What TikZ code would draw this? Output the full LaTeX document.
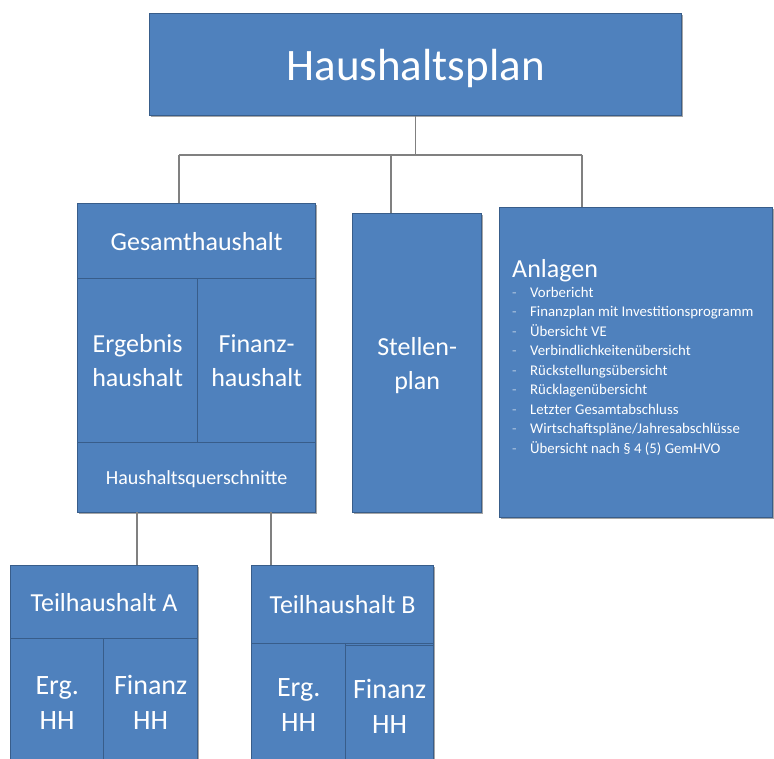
\documentclass[tikz,border=0pt]{standalone}
\usepackage{fontspec}
\setmainfont{Carlito}
\usetikzlibrary{shadows}
\definecolor{boxfill}{HTML}{4F81BD}
\definecolor{boxline}{HTML}{385D8A}
\definecolor{connline}{HTML}{808080}
\tikzset{
  cell/.style={draw=boxline, fill=boxfill, line width=1.3pt, inner sep=0pt,
    text=white, align=center, text depth=0pt, anchor=north west},
  framebox/.style={cell, drop shadow={shadow xshift=1.2pt, shadow yshift=-1.6pt, opacity=0.35, fill=black}},
  connector/.style={draw=connline, line width=1.4pt},
  bigtext/.style={font=\fontsize{26}{34}\selectfont},
  hhtext/.style={font=\fontsize{28}{35}\selectfont},
}
\newcommand{\anlitem}[1]{\makebox[18pt][l]{\textcolor{white!55!boxfill}{-}}#1}
\begin{document}
\begin{tikzpicture}[x=1pt,y=-1pt]
\useasboundingbox (0,0) rectangle (774,758);
\clip (0,0) rectangle (774,758);

% top
\node[framebox, minimum width=532pt, minimum height=102pt, font=\fontsize{45}{54}\selectfont] (hp) at (149,13) {Haushaltsplan};

% Gesamthaushalt
\node[framebox, minimum width=238pt, minimum height=309pt] (gesamt) at (77,203) {};
\node[cell, bigtext, minimum width=238pt, minimum height=75pt] (gh) at (77,203) {Gesamthaushalt};
\node[cell, bigtext, minimum width=120pt, minimum height=164pt] (eh) at (77,278) {Ergebnis\\haushalt};
\node[cell, bigtext, minimum width=118pt, minimum height=164pt] (fh) at (197,278) {Finanz-\\haushalt};
\node[cell, font=\fontsize{20}{24}\selectfont, minimum width=238pt, minimum height=70pt] (qs) at (77,442) {Haushaltsquerschnitte};

% Stellenplan
\node[framebox, bigtext, minimum width=129pt, minimum height=299pt] (stellen) at (352,213) {Stellen-\\plan};

% Anlagen
\node[framebox, minimum width=273pt, minimum height=310pt] (anlagen) at (499,207) {};
\node[anchor=base west, text=white, align=left, inner sep=0pt, font=\fontsize{14.8}{19.5}\selectfont] (anltext) at (512,453)
  {{\fontsize{26}{30}\selectfont Anlagen}\\[0pt]
   \anlitem{Vorbericht}\\
   \anlitem{Finanzplan mit Investitionsprogramm}\\
   \anlitem{Übersicht VE}\\
   \anlitem{Verbindlichkeitenübersicht}\\
   \anlitem{Rückstellungsübersicht}\\
   \anlitem{Rücklagenübersicht}\\
   \anlitem{Letzter Gesamtabschluss}\\
   \anlitem{Wirtschaftspläne/Jahresabschlüsse}\\
   \anlitem{Übersicht nach § 4 (5) GemHVO}};

% Teilhaushalt A
\node[framebox, minimum width=187pt, minimum height=201pt] (teilA) at (10,565) {};
\node[cell, bigtext, minimum width=187pt, minimum height=73pt] (thA) at (10,565) {Teilhaushalt A};
\node[cell, hhtext, minimum width=93pt, minimum height=128pt] (ergA) at (10,638) {Erg.\\HH};
\node[cell, hhtext, minimum width=94pt, minimum height=128pt] (finA) at (103,638) {Finanz\\HH};

% Teilhaushalt B
\node[framebox, minimum width=182pt, minimum height=201pt] (teilB) at (251,565) {};
\node[cell, bigtext, minimum width=182pt, minimum height=78pt] (thB) at (251,565) {Teilhaushalt B};
\node[cell, hhtext, minimum width=94pt, minimum height=123pt] (ergB) at (251,643) {Erg.\\HH};
\node[cell, hhtext, minimum width=88pt, minimum height=121pt] (finB) at (345,645) {Finanz\\HH};

% connectors
\coordinate (busL) at (179,155);
\coordinate (busS) at (391,155);
\coordinate (busR) at (582,155);
\draw[connector] (hp.south) -- (hp.south |- busL);
\draw[connector] (busL) -- (busR);
\draw[connector] (busL) -- (busL |- gesamt.north);
\draw[connector] (busS) -- (busS |- stellen.north);
\draw[connector] (busR) -- (busR |- anlagen.north);
\coordinate (dropA) at (137,512);
\coordinate (dropB) at (271,512);
\draw[connector] (dropA) -- (dropA |- teilA.north);
\draw[connector] (dropB) -- (dropB |- teilB.north);
\end{tikzpicture}
\end{document}
